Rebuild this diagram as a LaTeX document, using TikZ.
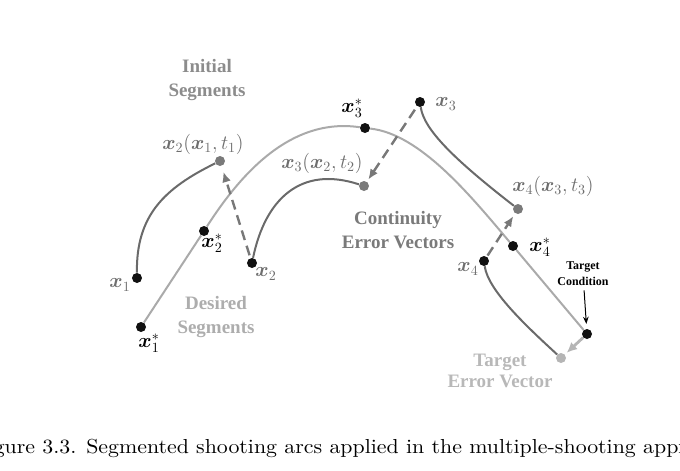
\documentclass[tikz,border=0pt]{standalone}
\usepackage{fontspec}
\usepackage{bm}
\usetikzlibrary{arrows.meta}
\newfontfamily\segfont{Liberation Serif}
\newfontfamily\capfont{lmroman10-regular.otf}
\definecolor{inkdot}{HTML}{111111}
\definecolor{errdot}{HTML}{7A7A7A}
\definecolor{tgtdot}{HTML}{B5B5B5}
\definecolor{initgray}{HTML}{6A6A6A}
\definecolor{wantgray}{HTML}{AAAAAA}
\definecolor{dashgray}{HTML}{787878}
\definecolor{mathgray}{HTML}{6E6E6E}
\tikzset{
  blackdot/.style={circle, fill=inkdot, inner sep=0pt, minimum size=2.5mm},
  greydot/.style={circle, fill=errdot, inner sep=0pt, minimum size=2.5mm},
  paledot/.style={circle, fill=tgtdot, inner sep=0pt, minimum size=2.5mm},
  initseg/.style={line width=0.5mm, color=initgray},
  wantseg/.style={line width=0.5mm, color=wantgray},
  errvec/.style={line width=0.6mm, color=dashgray, dash pattern=on 2.5mm off 1.5mm, -{Latex[length=2.6mm, width=2.2mm]}},
  xlabel/.style={font=\Large, inner sep=0pt},
  wordlabel/.style={font=\segfont\bfseries\fontsize{13.5}{17}\selectfont, align=center, inner sep=0pt}
}

\begin{document}
\begin{tikzpicture}[x=0.025cm, y=-0.025cm]
	%%%%% START %%%%%
	\useasboundingbox (0,0) rectangle (680,470);
	\clip (0,0) rectangle (680,470);
	
	\node[blackdot] (x1) at (137, 278) {};
	\node[blackdot] (x1s) at (141, 327) {};
	\node[blackdot] (x2s) at (204, 231) {};
	\node[greydot] (e1) at (220, 161) {};
	\node[blackdot] (x2) at (252, 263) {};
	\node[greydot] (e2) at (364, 186) {};
	\node[blackdot] (x3s) at (365, 128) {};
	\node[blackdot] (x3) at (420, 102) {};
	\node[greydot] (e3) at (518, 209) {};
	\node[blackdot] (x4s) at (513, 246) {};
	\node[blackdot] (x4) at (484, 261) {};
	\node[blackdot] (tgt) at (587, 334) {};
	\node[paledot] (e4) at (561, 358) {};
	
	\draw[wantseg] (x1s) -- (x2s) .. controls (240, 175) and (290, 117) .. (x3s) .. controls (420, 134) and (470, 195) .. (x4s) -- (tgt);
	
	\draw[initseg] (x1) .. controls (136, 215) and (165, 188) .. (e1);
	\draw[initseg] (x2) .. controls (265, 200) and (300, 165) .. (e2);
	\draw[initseg] (x3) .. controls (424, 130) and (455, 160) .. (e3);
	\draw[initseg] (x4) .. controls (488, 290) and (525, 325) .. (e4);
	
	\draw[errvec, shorten <=0.7mm, shorten >=1.5mm] (x2) -- (e1);
	\draw[errvec, shorten <=1mm, shorten >=0.6mm] (x3) -- (e2);
	\draw[errvec, shorten <=0.3mm, shorten >=0.8mm] (x4) -- (e3);
	\draw[line width=0.7mm, color=tgtdot, -{Latex[length=2.6mm, width=2.4mm]}, shorten >=0.6mm] (tgt) -- (e4);
	
	\node[xlabel, text=mathgray] (lx1) at (120, 285) {$\bm{x}_1$};
	\node[xlabel] (lx1s) at (149, 343) {$\bm{x}_1^*$};
	\node[xlabel] (lx2s) at (212, 243) {$\bm{x}_2^*$};
	\node[xlabel, text=mathgray] (lx2) at (266, 274) {$\bm{x}_2$};
	\node[xlabel, text=mathgray] (le1) at (203, 144) {$\bm{x}_2(\bm{x}_1,t_1)$};
	\node[xlabel, text=mathgray] (le2) at (322, 163) {$\bm{x}_3(\bm{x}_2,t_2)$};
	\node[xlabel] (lx3s) at (352, 108) {$\bm{x}_3^*$};
	\node[xlabel, text=mathgray] (lx3) at (446, 104) {$\bm{x}_3$};
	\node[xlabel, text=mathgray] (le3) at (553, 186) {$\bm{x}_4(\bm{x}_3,t_3)$};
	\node[xlabel] (lx4s) at (540, 247) {$\bm{x}_4^*$};
	\node[xlabel, text=mathgray] (lx4) at (468, 269) {$\bm{x}_4$};
	
	\node[wordlabel, text=black!45] (init) at (207, 80) {Initial\\Segments};
	\node[wordlabel, text=black!32] (want) at (216, 317) {Desired\\Segments};
	\node[wordlabel, text=black!52] (cont) at (398, 230) {Continuity\\Error Vectors};
	\node[wordlabel, text=black!28, font=\segfont\bfseries\fontsize{13.5}{15.5}\selectfont] (terr) at (500, 371) {Target\\Error Vector};
	\node[font=\segfont\bfseries\fontsize{8.5}{11.5}\selectfont, align=center, inner sep=0pt] (tcond) at (583, 274) {Target\\Condition};
	\draw[line width=0.25mm, -{Stealth[length=1.8mm, width=1.4mm]}, shorten <=1mm, shorten >=1.2mm] (tcond) -- (tgt);
	
	\node[anchor=base west, font=\capfont\fontsize{14.4}{17}\selectfont, inner sep=0pt] (cap) at (86, 453) {\scalebox{1.08}[1]{\llap{Figure 3.3.\hspace{0.45em}}Segmented shooting arcs applied in the multiple-shooting approach}};
	%%%%% END %%%%%
\end{tikzpicture}
\end{document}
